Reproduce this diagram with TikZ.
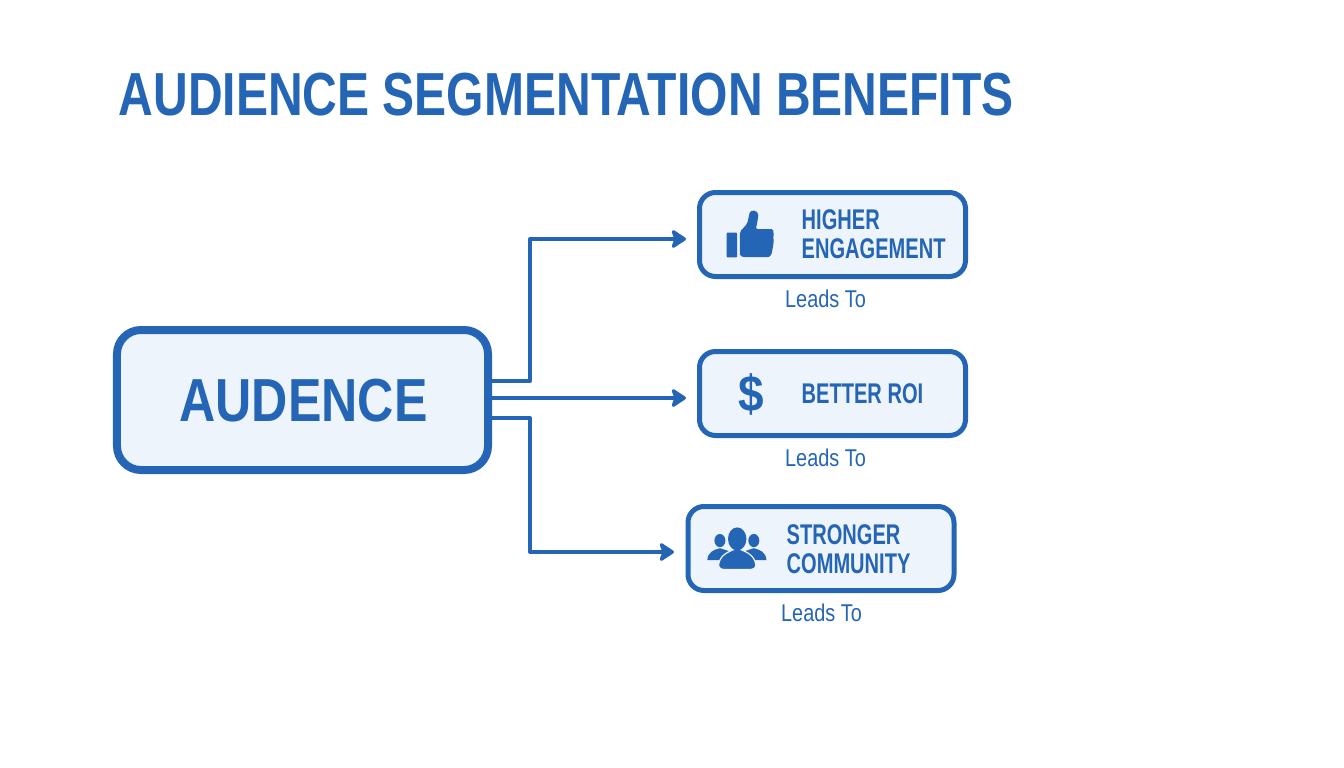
\documentclass[tikz,border=0pt]{standalone}
\usepackage{fontspec}
\setmainfont{Liberation Sans}
\newfontfamily\titlefont[FakeStretch=.79]{Liberation Sans}
\newfontfamily\mainfont[FakeStretch=.825]{Liberation Sans}
\newfontfamily\benefitfont[FakeStretch=.705]{Liberation Sans}
\newfontfamily\leadsfont[FakeStretch=.82]{Liberation Sans}
\newfontfamily\dollarfont[FakeStretch=.9]{Liberation Sans}
\usetikzlibrary{arrows.meta}

\definecolor{segblue}{HTML}{2465B5}
\definecolor{segfill}{HTML}{EEF4FC}

\begin{document}
\begin{tikzpicture}[>={Stealth[length=.17cm,width=.22cm,inset=.04cm,round]},
                       mainbox/.style = {draw = segblue, fill = segfill, line width = .08cm,
                                         rounded corners = .24cm, minimum width = 3.71cm,
                                         minimum height = 1.40cm},
                       benefit/.style = {draw = segblue, fill = segfill, line width = .05cm,
                                         rounded corners = .16cm, minimum width = 2.66cm,
                                         minimum height = .84cm},
                       benefittext/.style = {text = segblue, anchor = west, align = left, inner sep = 0pt,
                                             font = \benefitfont\fontsize{8.1}{8}\selectfont\bfseries},
                       leadstext/.style = {text = segblue, inner sep = 0pt,
                                           font = \leadsfont\fontsize{6.9}{8}\selectfont},
                       link/.style = {draw = segblue, line width = .04cm, line join = round}
                      ]
     \useasboundingbox (0,0) rectangle (13.44,-7.68);
     \fill[white] (0,0) rectangle (13.44,-7.68);

     \node[text = segblue, anchor = west, inner sep = 0pt,
           font = \titlefont\fontsize{17.3}{20}\selectfont\bfseries] (title) at (1.18,-.945)
           {AUDIENCE SEGMENTATION BENEFITS};

     % boxes
     \node[mainbox] (audience) at (3.025,-4.00) {};
     \node[text = segblue, font = \mainfont\fontsize{17.3}{20}\selectfont\bfseries] (audiencetext) at (3.035,-4.005) {AUDENCE};

     \node[benefit] (higher) at (8.325,-2.345) {};
     \node[benefit] (roi) at (8.325,-3.935) {};
     \node[benefit] (community) at (8.21,-5.485) {};

     \node[benefittext] (highertext) at (8.01,-2.345) {HIGHER\\[.3pt]ENGAGEMENT};
     \node[benefittext] (roitext) at (8.01,-3.94) {BETTER ROI};
     \node[benefittext] (communitytext) at (7.86,-5.49) {STRONGER\\[.3pt]COMMUNITY};

     \node[leadstext] (leadsa) at (8.255,-2.985) {Leads To};
     \node[leadstext] (leadsb) at (8.255,-4.575) {Leads To};
     \node[leadstext] (leadsc) at (8.215,-6.125) {Leads To};

     % connectors
     \coordinate (tipa) at (6.86,-2.39);
     \coordinate (tipb) at (6.86,-3.98);
     \coordinate (tipc) at (6.74,-5.52);

     \draw[link, ->] (audience.east |- 0,-3.81) -- (5.30,-3.81) |- (tipa);
     \draw[link, ->] (audience.east |- tipb) -- (tipb);
     \draw[link, ->] (audience.east |- 0,-4.18) -- (5.30,-4.18) |- (tipc);

     % thumb
     \begin{scope}[shift = {(6.9,-1.8)}, x = .003333cm, y = -.003333cm]
          \fill[segblue, rounded corners = .01cm] (110,158) rectangle (142,233);
          \fill[segblue, rounded corners = .02cm] (150,155) -- (172,132) -- (178,104)
               .. controls (182,88) and (206,90) .. (205,112) -- (198,148) -- (240,148)
               .. controls (250,148) and (253,156) .. (250,170) -- (252,185) -- (247,215)
               .. controls (244,228) and (238,232) .. (228,232) -- (170,232)
               .. controls (158,232) and (150,228) .. (150,218) -- cycle;
     \end{scope}

     % dollar
     \node[text = segblue, inner sep = 0pt, font = \dollarfont\fontsize{14.5}{16}\selectfont\bfseries] (dollar) at (7.515,-3.945) {\$};

     % people
     \begin{scope}[shift = {(6.8,-4.95)}, x = .003333cm, y = -.003333cm]
          \fill[segblue] (120,137) ellipse (.055cm and .066cm);
          \fill[segblue] (222,137) ellipse (.055cm and .066cm);
          \fill[segblue] (82,196) .. controls (84,172) and (100,165) .. (120,160)
               -- (150,170) -- (125,196) -- cycle;
          \fill[segblue] (260,196) .. controls (258,172) and (242,165) .. (222,160)
               -- (192,170) -- (217,196) -- cycle;
          \filldraw[segblue, draw = segfill, line width = .012cm] (172,132) ellipse (.092cm and .115cm);
          \filldraw[segblue, draw = segfill, line width = .012cm] (116,210)
               .. controls (120,182) and (140,172) .. (172,160)
               .. controls (204,172) and (224,182) .. (228,210)
               .. controls (228,220) and (220,224) .. (210,224) -- (134,224)
               .. controls (124,224) and (116,220) .. (116,210) -- cycle;
          \fill[segblue] (172,132) ellipse (.092cm and .115cm);
     \end{scope}

\end{tikzpicture}
\end{document}
